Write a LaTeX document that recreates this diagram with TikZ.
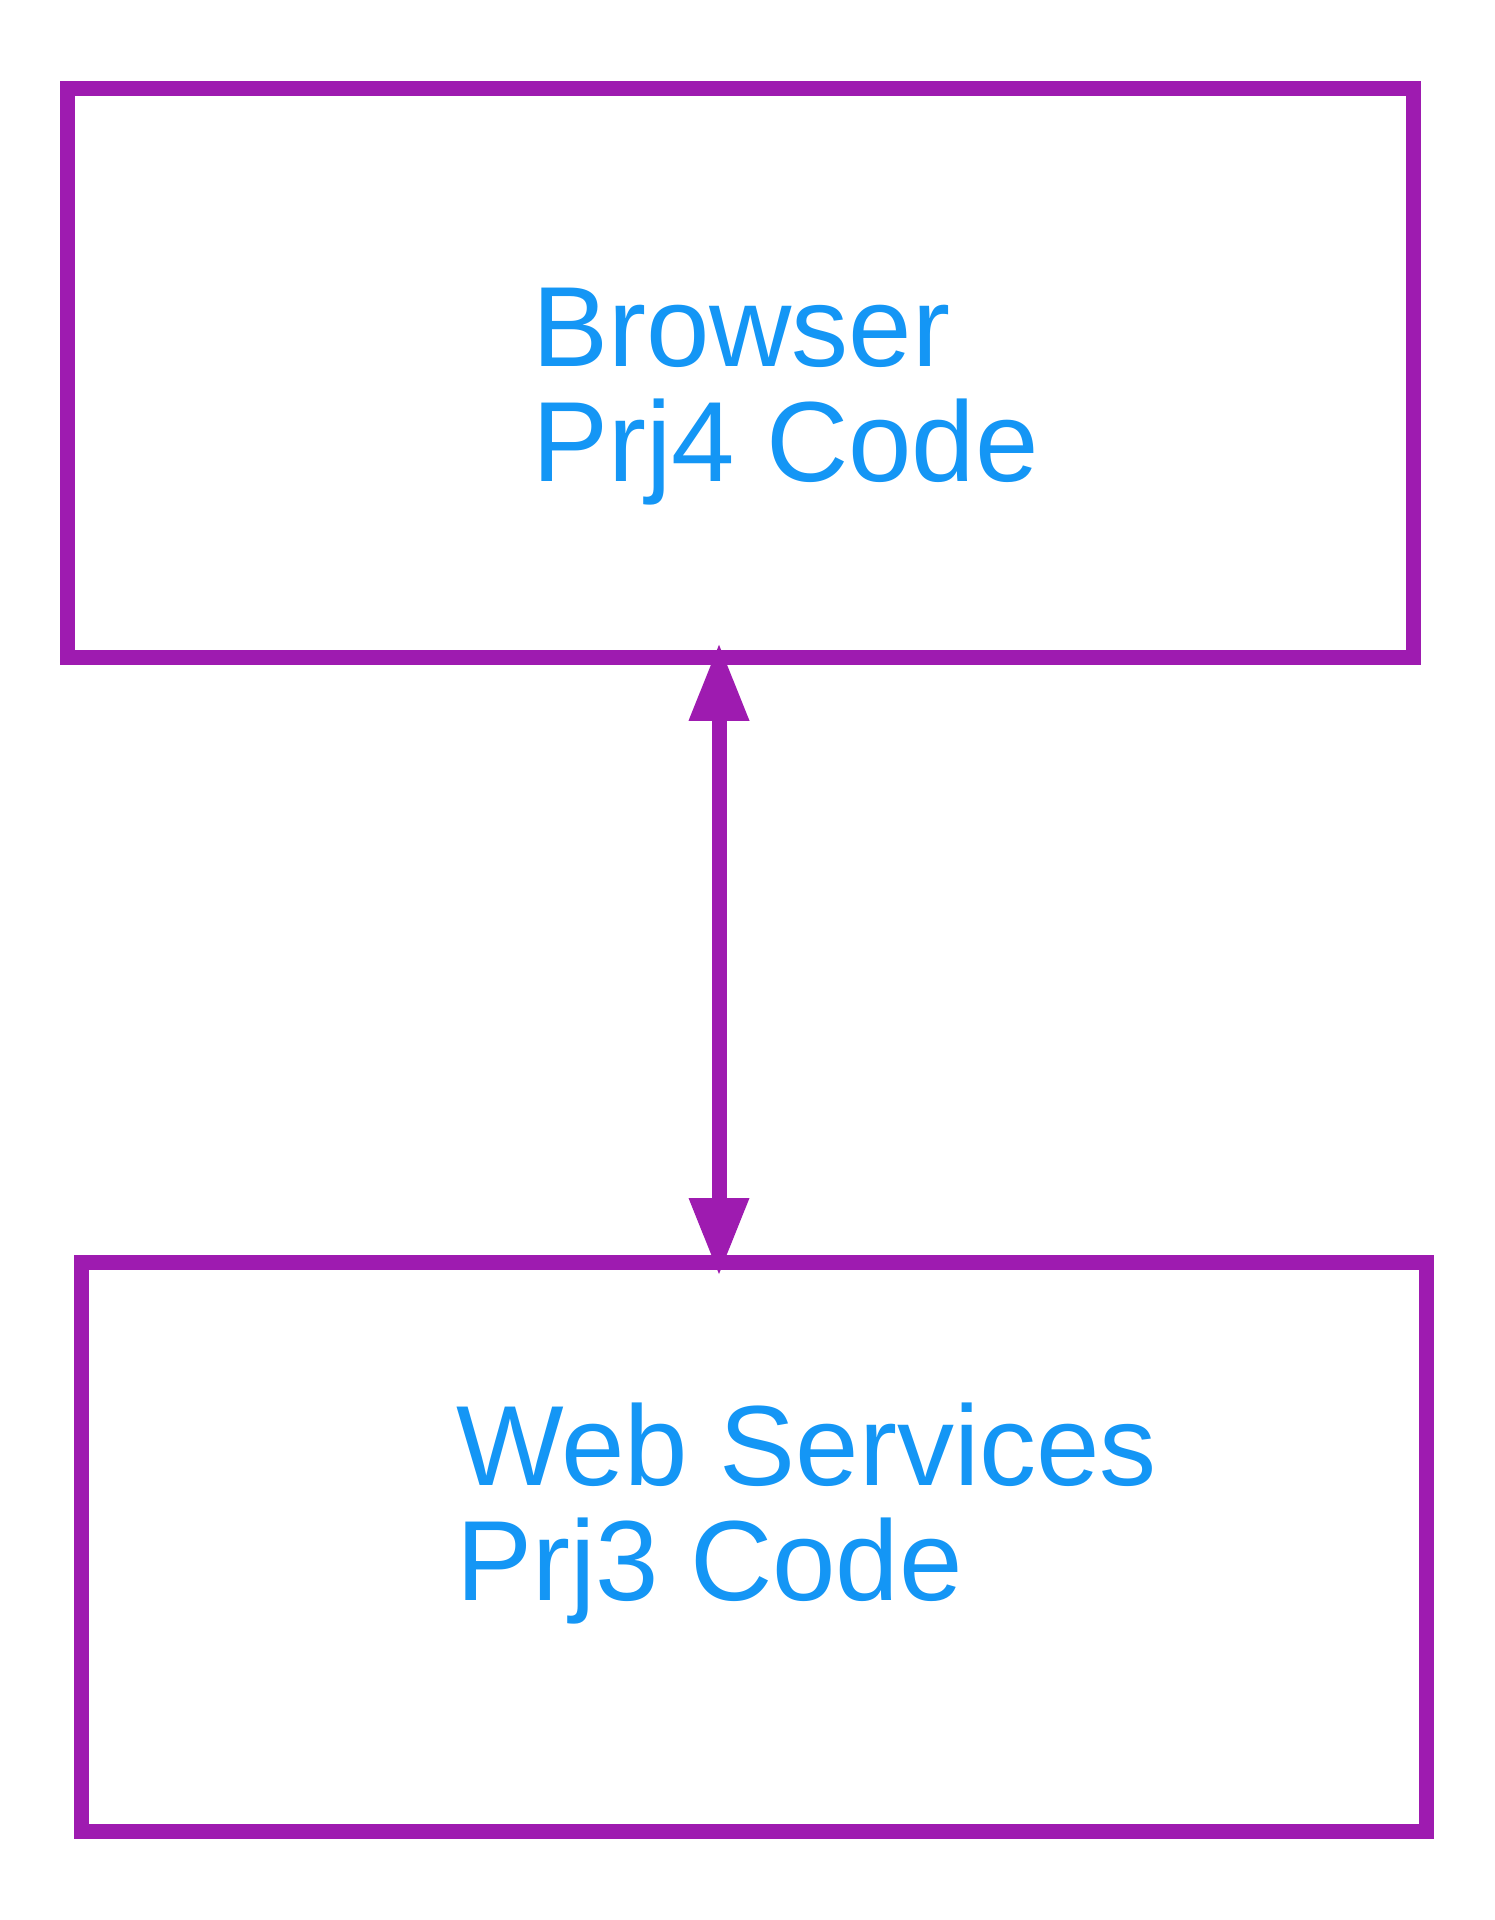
\documentclass[tikz,border=0pt]{standalone}
\usepackage{fontspec}
\setmainfont{Liberation Sans}
\usetikzlibrary{arrows.meta}
\definecolor{boxpurple}{RGB}{158,27,176}
\definecolor{textblue}{RGB}{20,150,245}
\newcommand{\twolines}[2]{\vtop{\baselineskip=115pt\hbox{#1}\hbox{#2}}}
\tikzset{
  compbox/.style={draw=boxpurple, line width=15pt, rectangle, inner sep=0pt, outer sep=0pt,
    minimum width=1346pt, minimum height=569pt},
  complabel/.style={text=textblue, inner sep=0pt, outer sep=0pt, anchor=base west,
    font=\fontsize{114}{115}\selectfont},
  link/.style={draw=boxpurple, line width=15pt,
    {Triangle[width=61pt,length=76pt,line width=0pt]}-{Triangle[width=61pt,length=76pt,line width=0pt]}}
}
\begin{document}
\begin{tikzpicture}[x=1pt,y=-1pt]
\useasboundingbox (0,0) rectangle (1495,1920);
\node[compbox] (browser) at (740.5,373.25) {};
\node[compbox, minimum width=1345pt] (web) at (753.5,1546.5) {};
\node[complabel] (browserlabel) at (532,366) {\twolines{Browser}{Prj4 Code}};
\node[complabel] (weblabel) at (456,1485) {\twolines{Web Services}{Prj3 Code}};
\coordinate (linkx) at (719,0);
\draw[link, shorten <=-13pt, shorten >=-12pt] (browser.south -| linkx) -- (web.north -| linkx);
\end{tikzpicture}
\end{document}
